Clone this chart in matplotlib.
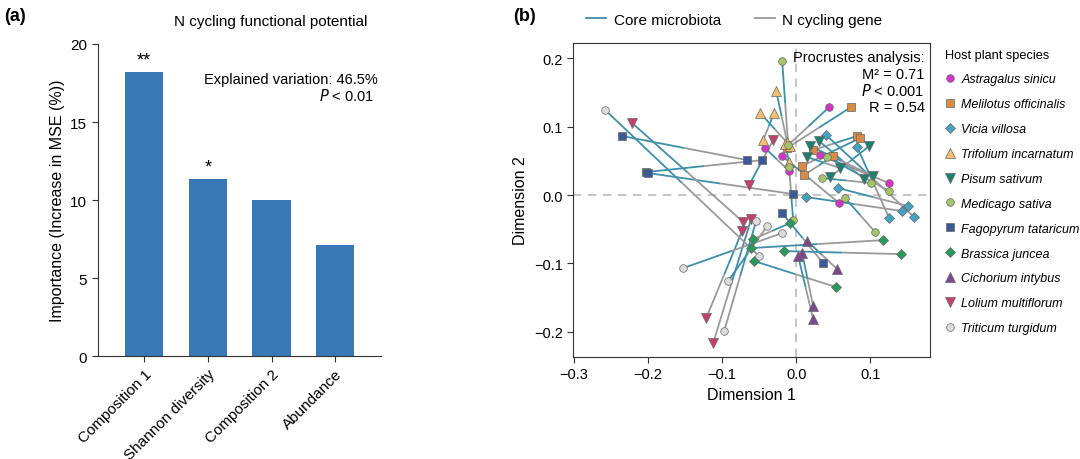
import matplotlib
matplotlib.use("Agg")
import matplotlib.pyplot as plt
from matplotlib.lines import Line2D
import numpy as np

plt.rcParams['font.family'] = ['Liberation Sans', 'DejaVu Sans']

# ---------------- Panel (a) data ----------------
predictors = ["Composition 1", "Shannon diversity", "Composition 2", "Abundance"]
importance = [18.2, 11.35, 10.0, 7.1]
signif = ["**", "*", "", ""]

# ---------------- Panel (b) data ----------------
species = ["Astragalus sinicu", "Melilotus officinalis", "Vicia villosa",
           "Trifolium incarnatum", "Pisum sativum", "Medicago sativa",
           "Fagopyrum tataricum", "Brassica juncea", "Cichorium intybus",
           "Lolium multiflorum", "Triticum turgidum"]
sp_colors = ["#d633c9", "#d98b45", "#45a2c2", "#f0c070", "#1f7f6f", "#a5c46a",
             "#3c5a98", "#2a9a5c", "#7a4a8c", "#c2416b", "#dcdcdc"]
sp_markers = ["o", "s", "D", "^", "v", "o", "s", "D", "^", "v", "o"]

# per sample: species index, core microbiota (x1, y1), N cycling gene (x2, y2)
pair_species = [0, 0, 0, 0,
                1, 1, 1, 1,
                2, 2, 2, 2,
                3, 3, 3, 3,
                4, 4, 4, 4,
                5, 5, 5, 5, 5,
                6, 6, 6, 6,
                7, 7, 7, 7,
                8, 8, 8,
                9, 9, 9, 9,
                10, 10, 10, 10]
core_x = [0.0446, 0.0324, -0.0189, -0.0419,
          0.0743, 0.0824, 0.0865, 0.0500,
          0.0405, 0.0824, 0.0568, 0.0135,
          -0.0270, -0.0486, -0.0297, -0.0095,
          0.0311, 0.0189, 0.0149, 0.0986,
          -0.0189, 0.0419, 0.0351, 0.0662, -0.0041,
          -0.2351, -0.2027, -0.2000, -0.0189,
          -0.0608, -0.0162, -0.0568, -0.0081,
          0.0149, 0.0081, 0.0027,
          -0.2216, -0.0635, -0.0730, -0.0608,
          -0.2581, -0.1527, -0.0919, -0.0541]
core_y = [0.1288, 0.0586, 0.0571, 0.0688,
          0.1288, 0.0864, 0.0835, 0.0571,
          0.0878, 0.0703, 0.0102, -0.0029,
          0.1523, 0.1201, 0.1201, 0.0483,
          0.0791, 0.0717, 0.0556, 0.0717,
          0.1962, 0.0556, 0.0249, -0.0044, -0.0366,
          0.0864, 0.0337, 0.0322, -0.0264,
          -0.0776, -0.0820, -0.0966, -0.0410,
          -0.0673, -0.0849, -0.0893,
          0.1054, 0.0146, -0.0527, -0.0351,
          0.1245, -0.1069, -0.1259, -0.0381]
ncyc_x = [-0.0122, 0.1257, 0.0581, -0.0095,
          -0.0122, 0.0230, 0.0081, 0.0108,
          0.1595, 0.1257, 0.1514, 0.1432,
          -0.0122, -0.0081, -0.0446, -0.0149,
          0.0919, 0.1041, 0.0595, 0.0459,
          -0.0108, 0.1257, 0.1014, 0.1068, -0.0095,
          -0.0662, -0.0459, -0.0041, 0.0365,
          0.1176, 0.1419, 0.0541, -0.0581,
          0.0554, 0.0230, 0.0230,
          -0.0716, -0.0311, -0.1216, -0.1122,
          -0.0500, -0.0189, -0.0392, -0.0973]
ncyc_y = [0.0717, 0.0176, -0.0117, 0.0351,
          0.0688, 0.0659, 0.0425, 0.0293,
          -0.0322, -0.0337, -0.0161, -0.0234,
          0.0776, 0.0717, 0.0805, 0.0747,
          0.0234, 0.0278, 0.0395, 0.0264,
          0.0732, 0.0059, 0.0176, -0.0542, 0.0410,
          0.0512, 0.0512, 0.0015, -0.0996,
          -0.0659, -0.0864, -0.1347, -0.0644,
          -0.1083, -0.1625, -0.1816,
          -0.0395, 0.0805, -0.1801, -0.2167,
          -0.0893, -0.0556, -0.0454, -0.1991]

core_color = "#3f8fa8"
ncyc_color = "#9a9a9a"
bar_color = "#3878b4"

fig = plt.figure(figsize=(10.8, 4.6), dpi=100)

# ---------------- Panel (a) ----------------
axa = fig.add_axes([0.0905, 0.2233, 0.2623, 0.6789])
xpos = np.arange(len(predictors))
axa.bar(xpos, importance, width=0.6, color=bar_color)
for xi, h, s in zip(xpos, importance, signif):
    if s:
        axa.text(xi, h + 0.2, s, ha="center", va="bottom", fontsize=13)
axa.set_xlim(-0.73, 3.72)
axa.set_ylim(0, 20)
axa.set_yticks([0, 5, 10, 15, 20])
axa.set_xticks(xpos)
axa.set_xticklabels(predictors, rotation=45, ha="right", rotation_mode="anchor",
                    fontsize=11)
axa.tick_params(axis="y", labelsize=11, length=4, color="#333333")
axa.tick_params(axis="x", length=4, color="#333333")
for sp in ["top", "right"]:
    axa.spines[sp].set_visible(False)
for sp in ["left", "bottom"]:
    axa.spines[sp].set_color("#333333")
axa.set_ylabel("Importance (Increase in MSE (%))", fontsize=11.5)
axa.text(0.99, 0.888, "Explained variation: 46.5%", transform=axa.transAxes,
         ha="right", va="center", fontsize=10.5)
axa.text(0.975, 0.837, "$\\it{P}$ < 0.01", transform=axa.transAxes,
         ha="right", va="center", fontsize=10.5)
fig.text(0.251, 0.952, "N cycling functional potential", ha="center",
         va="center", fontsize=11)
fig.text(0.004, 0.965, "(a)", ha="left", va="center", fontsize=13,
         fontweight="bold")

# ---------------- Panel (b) ----------------
axb = fig.add_axes([0.5306, 0.2217, 0.3306, 0.6826])
axb.axvline(0, color="#bbbbbb", ls=(0, (5, 4)), lw=1.2, zorder=0)
axb.axhline(0, color="#bbbbbb", ls=(0, (5, 4)), lw=1.2, zorder=0)
for i in range(len(pair_species)):
    x1, y1, x2, y2 = core_x[i], core_y[i], ncyc_x[i], ncyc_y[i]
    mx, my = (x1 + x2) / 2, (y1 + y2) / 2
    axb.plot([x1, mx], [y1, my], color=core_color, lw=1.3, zorder=1,
             solid_capstyle="butt")
    axb.plot([mx, x2], [my, y2], color=ncyc_color, lw=1.3, zorder=1,
             solid_capstyle="butt")


def msize(m):
    return 6.5 if m in ("^", "v") else (5 if m == "D" else 5.5)


for k in range(len(species)):
    idx = [i for i, s in enumerate(pair_species) if s == k]
    xs = [core_x[i] for i in idx] + [ncyc_x[i] for i in idx]
    ys = [core_y[i] for i in idx] + [ncyc_y[i] for i in idx]
    axb.plot(xs, ys, ls="none", marker=sp_markers[k], ms=msize(sp_markers[k]),
             mfc=sp_colors[k], mec="#666666", mew=0.5, zorder=3)
axb.set_xlim(-0.3015, 0.181)
axb.set_ylim(-0.237, 0.2225)
axb.set_xticks([-0.3, -0.2, -0.1, 0.0, 0.1])
axb.set_yticks([-0.2, -0.1, 0.0, 0.1, 0.2])
axb.set_xticklabels(["\u22120.3", "\u22120.2", "\u22120.1", "0.0", "0.1"])
axb.set_yticklabels(["\u22120.2", "\u22120.1", "0.0", "0.1", "0.2"])
axb.tick_params(labelsize=10.5, length=4, color="#333333")
for sp in axb.spines.values():
    sp.set_color("#333333")
axb.set_xlabel("Dimension 1", fontsize=11.5)
axb.set_ylabel("Dimension 2", fontsize=11.5)
stat_lines = ["Procrustes analysis:", "M\u00b2 = 0.71", "$\\it{P}$ < 0.001", "R = 0.54"]
stat_y = [0.955, 0.901, 0.850, 0.796]
for t, yy in zip(stat_lines, stat_y):
    axb.text(0.985, yy, t, transform=axb.transAxes, ha="right", va="center",
             fontsize=10.5)
fig.text(0.475, 0.965, "(b)", ha="left", va="center", fontsize=13,
         fontweight="bold")

# top legend
top_handles = [Line2D([0], [0], color=core_color, lw=1.3),
               Line2D([0], [0], color=ncyc_color, lw=1.3)]
fig.legend(top_handles, ["Core microbiota", "N cycling gene"], loc="center",
           bbox_to_anchor=(0.68, 0.955), ncol=2, frameon=False, fontsize=11,
           handlelength=1.3, handletextpad=0.5, columnspacing=2.2)

# species legend
sp_handles = [Line2D([0], [0], ls="none", marker=sp_markers[k],
                     ms=msize(sp_markers[k]), mfc=sp_colors[k], mec="#666666",
                     mew=0.5) for k in range(len(species))]
leg = fig.legend(sp_handles, species, loc="upper left",
                 bbox_to_anchor=(0.87, 0.903), frameon=False,
                 title="Host plant species", title_fontsize=9.2,
                 prop={"size": 9.0, "style": "italic"}, labelspacing=1.03,
                 handlelength=0.9, handletextpad=0.45, borderaxespad=0,
                 alignment="left")

fig.savefig("out.png", dpi=100)
